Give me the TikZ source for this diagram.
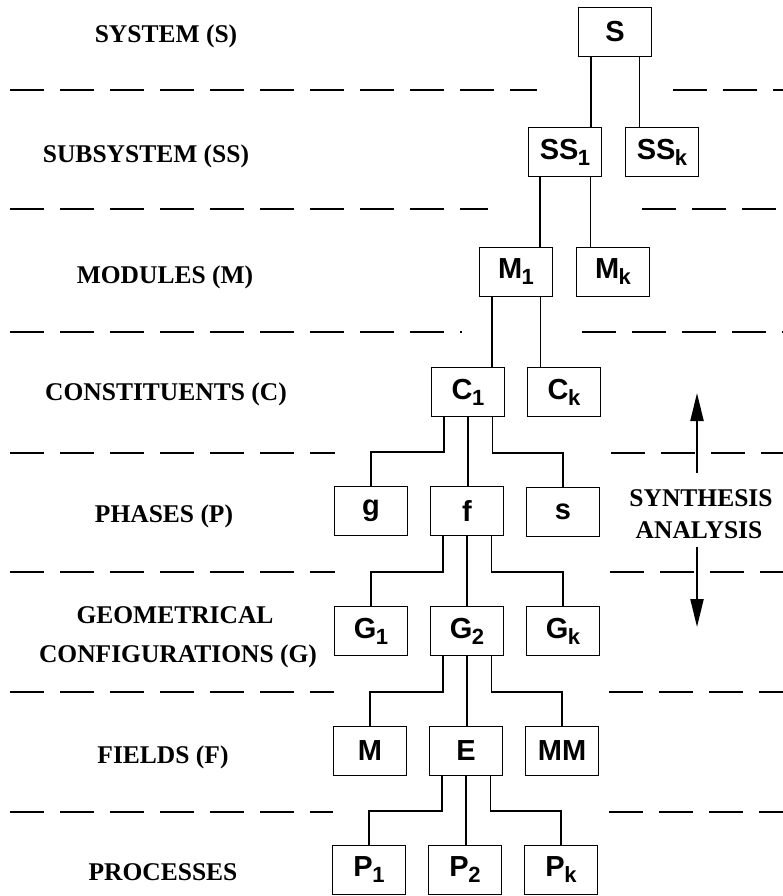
\documentclass[tikz,border=0pt]{standalone}
\usepackage{fontspec}
\setmainfont{Liberation Serif}
\setsansfont{Liberation Sans}
\usetikzlibrary{arrows.meta}

% lowered index inside a box
\newcommand{\idx}[1]{\kern-0.5pt\raisebox{-6pt}{\fontsize{22}{22}\selectfont #1}}

\begin{document}
\begin{tikzpicture}[x=1pt,y=-1pt,
    box/.style={draw,line width=1.5pt,minimum width=73pt,minimum height=49pt,inner sep=0pt,
      font=\sffamily\bfseries\fontsize{29}{29}\selectfont},
    level/.style={font=\bfseries\fontsize{25.5}{28}\selectfont,anchor=base,inner sep=0pt},
    sep/.style={line width=1.7pt,dash pattern=on 34pt off 16pt},
    link/.style={line width=1.5pt},
    dir/.style={line width=2.2pt,-{Triangle[length=28pt,width=13pt]}}]
    \useasboundingbox (0,0) rectangle (783,896);
    % level separators
    \foreach \y/\a/\b in {90/537/673, 209/488/642, 332/462/582, 453/335/611,
                          572/335/610, 692/334/609, 812/333/609} {
      \draw [sep] (10,\y) -- (\a,\y);
      \draw [sep] (\b,\y) -- (783,\y);
    }
    % level names
    \node [level] (lS) at (166,43) {SYSTEM (S)};
    \node [level] (lSS) at (146,163) {SUBSYSTEM (SS)};
    \node [level] (lM) at (165,283) {MODULES (M)};
    \node [level] (lC) at (166,400) {CONSTITUENTS (C)};
    \node [level] (lP) at (164,522) {PHASES (P)};
    \node [level] (lG) at (175,623) {GEOMETRICAL};
    \node [level] (lGb) at (178,662) {CONFIGURATIONS (G)};
    \node [level] (lF) at (163,763) {FIELDS (F)};
    \node [level] (lPr) at (163,880) {PROCESSES};
    % tree
    \node [box] (S) at (615,32) {S};
    \node [box] (SS1) at (565,152) {SS\idx{1}};
    \node [box] (SSk) at (662,152) {SS\idx{k}};
    \node [box] (M1) at (516,272) {M\idx{1}};
    \node [box] (Mk) at (613,272) {M\idx{k}};
    \node [box] (C1) at (468,392) {C\idx{1}};
    \node [box] (Ck) at (564,392) {C\idx{k}};
    \node [box] (g) at (371,511) {g};
    \node [box] (f) at (467,511) {f};
    \node [box] (s) at (563,512) {s};
    \node [box] (G1) at (371,631) {G\idx{1}};
    \node [box] (G2) at (467,631) {G\idx{2}};
    \node [box] (Gk) at (563,631) {G\idx{k}};
    \node [box] (Fm) at (370,751) {M};
    \node [box] (E) at (466,751) {E};
    \node [box] (MM) at (562,751) {MM};
    \node [box] (P1) at (369,870) {P\idx{1}};
    \node [box] (P2) at (465,870) {P\idx{2}};
    \node [box] (Pk) at (561,870) {P\idx{k}};
    % straight links
    \draw [link] ([xshift=13pt]S.south west) -- ([xshift=13pt]S.south west |- SS1.north);
    \draw [link] ([xshift=-13pt]S.south east) -- ([xshift=-13pt]S.south east |- SSk.north);
    \draw [link] ([xshift=12pt]SS1.south west) -- ([xshift=12pt]SS1.south west |- M1.north);
    \draw [link] ([xshift=-12pt]SS1.south east) -- ([xshift=-12pt]SS1.south east |- Mk.north);
    \draw [link] ([xshift=13pt]M1.south west) -- ([xshift=13pt]M1.south west |- C1.north);
    \draw [link] ([xshift=-13pt]M1.south east) -- ([xshift=-13pt]M1.south east |- Ck.north);
    % branching links
    \draw [link] ([xshift=13pt]C1.south west) |- ([yshift=34pt]g.north) -- (g.north);
    \draw [link] (C1.south) -- (C1.south |- f.north);
    \draw [link] ([xshift=-13pt]C1.south east) |- ([yshift=34pt]s.north) -- (s.north);
    \draw [link] ([xshift=13pt]f.south west) |- ([yshift=34pt]G1.north) -- (G1.north);
    \draw [link] (f.south) -- (G2.north);
    \draw [link] ([xshift=-13pt]f.south east) |- ([yshift=34pt]Gk.north) -- (Gk.north);
    \draw [link] ([xshift=13pt]G2.south west) |- ([yshift=34pt]Fm.north) -- (Fm.north);
    \draw [link] (G2.south) -- (G2.south |- E.north);
    \draw [link] ([xshift=-13pt]G2.south east) |- ([yshift=34pt]MM.north) -- (MM.north);
    \draw [link] ([xshift=13pt]E.south west) |- ([yshift=34pt]P1.north) -- (P1.north);
    \draw [link] (E.south) -- (E.south |- P2.north);
    \draw [link] ([xshift=-13pt]E.south east) |- ([yshift=34pt]Pk.north) -- (Pk.north);
    % synthesis / analysis
    \node [level] (syn) at (701,506) {SYNTHESIS};
    \node [level] (ana) at (699,538) {ANALYSIS};
    \coordinate (up0) at (697,473);
    \coordinate (up1) at (697,393);
    \coordinate (dn0) at (697,547);
    \coordinate (dn1) at (697,627);
    \draw [dir] (up0) -- (up1);
    \draw [dir] (dn0) -- (dn1);
\end{tikzpicture}
\end{document}
